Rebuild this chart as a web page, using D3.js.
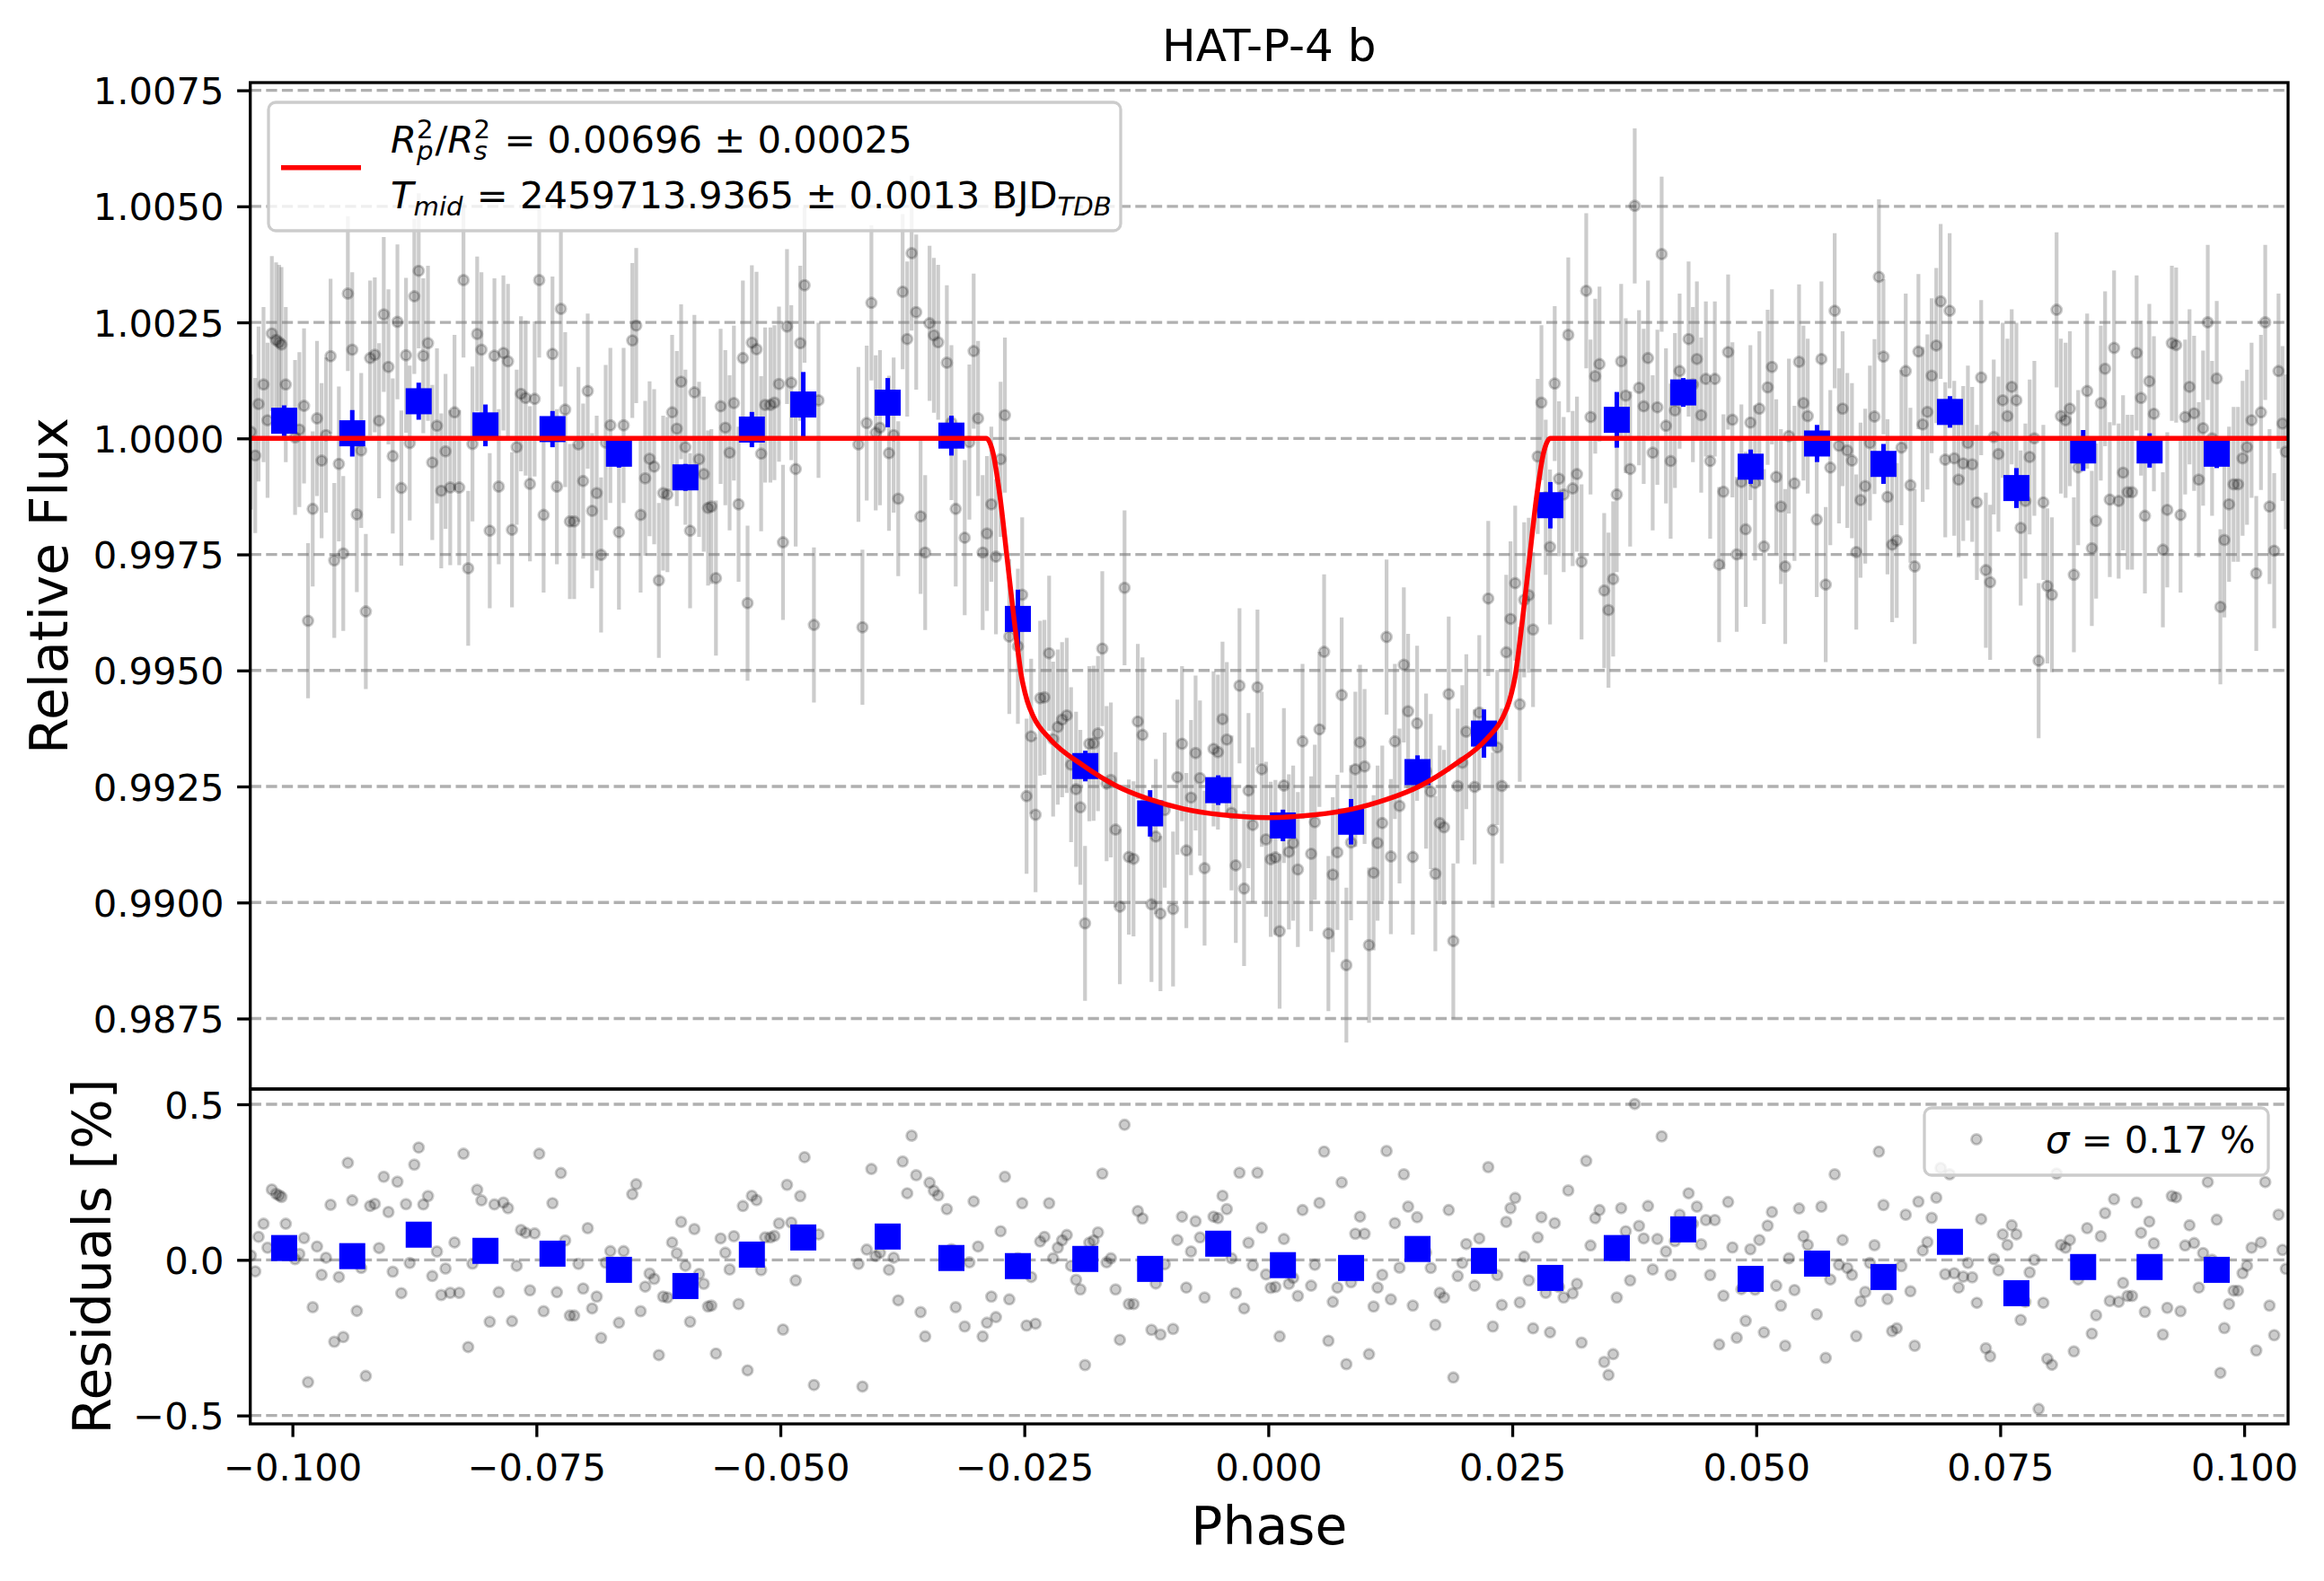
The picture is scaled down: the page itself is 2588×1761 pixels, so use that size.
<!DOCTYPE html>
<html lang="en">
<head>
<meta charset="UTF-8">
<script src="https://d3js.org/d3.v7.min.js"></script>
<title>HAT-P-4 b</title>
<style>
  body { margin: 0; background: white; }
  svg { display: block; background: white; }
  text { font-family: "DejaVu Sans", sans-serif; fill: black; }
</style>
</head>
<body>
<script>
// observed points: phase, relative flux, residual (%)
const phase = [
-0.10426,-0.10381,-0.10347,-0.10296,-0.10255,-0.10211,-0.10167,-0.10136,-0.10112,-0.10068,
-0.09973,-0.09929,-0.09881,-0.09840,-0.09792,-0.09748,-0.09701,-0.09656,-0.09609,-0.09571,
-0.09524,-0.09479,-0.09432,-0.09387,-0.09340,-0.09295,-0.09248,-0.09204,-0.09156,-0.09112,
-0.09064,-0.09016,-0.08972,-0.08924,-0.08884,-0.08836,-0.08798,-0.08751,-0.08706,-0.08659,
-0.08611,-0.08567,-0.08519,-0.08475,-0.08431,-0.08383,-0.08339,-0.08291,-0.08247,-0.08199,
-0.08155,-0.08107,-0.08063,-0.07978,-0.07930,-0.07886,-0.07838,-0.07791,-0.07750,-0.07702,
-0.07658,-0.07610,-0.07566,-0.07518,-0.07471,-0.07426,-0.07335,-0.07290,-0.07249,-0.07205,
-0.07157,-0.07113,-0.07069,-0.07021,-0.06974,-0.06929,-0.06882,-0.06837,-0.06790,-0.06742,
-0.06654,-0.06606,-0.06517,-0.06477,-0.06432,-0.06385,-0.06340,-0.06293,-0.06245,-0.06201,
-0.06157,-0.06109,-0.06061,-0.06017,-0.05973,-0.05925,-0.05881,-0.05833,-0.05785,-0.05741,
-0.05707,-0.05660,-0.05612,-0.05564,-0.05520,-0.05476,-0.05428,-0.05384,-0.05336,-0.05292,
-0.05244,-0.05197,-0.05156,-0.05102,-0.05061,-0.05014,-0.04973,-0.04932,-0.04888,-0.04843,
-0.04796,-0.04752,-0.04656,-0.04609,-0.04200,-0.04159,-0.04115,-0.04067,-0.04023,-0.03979,
-0.03887,-0.03839,-0.03792,-0.03747,-0.03700,-0.03655,-0.03608,-0.03563,-0.03516,-0.03471,
-0.03427,-0.03383,-0.03294,-0.03247,-0.03203,-0.03111,-0.03063,-0.03019,-0.02974,-0.02927,
-0.02883,-0.02838,-0.02791,-0.02743,-0.02699,-0.02654,-0.02566,-0.02522,-0.02477,-0.02430,
-0.02385,-0.02338,-0.02294,-0.02246,-0.02205,-0.02157,-0.02113,-0.02065,-0.02021,-0.01970,
-0.01926,-0.01878,-0.01834,-0.01790,-0.01745,-0.01701,-0.01657,-0.01613,-0.01565,-0.01521,
-0.01473,-0.01429,-0.01381,-0.01337,-0.01289,-0.01197,-0.01153,-0.01105,-0.01061,-0.00976,
-0.00932,-0.00884,-0.00840,-0.00792,-0.00745,-0.00700,-0.00653,-0.00561,-0.00516,-0.00469,
-0.00425,-0.00377,-0.00333,-0.00295,-0.00248,-0.00203,-0.00159,-0.00111,-0.00067,-0.00023,
0.00025,0.00073,0.00116,0.00160,0.00211,0.00255,0.00303,0.00351,0.00439,0.00477,
0.00524,0.00572,0.00616,0.00661,0.00708,0.00752,0.00800,0.00848,0.00892,0.00940,
0.00987,0.01032,0.01079,0.01120,0.01168,0.01212,0.01256,0.01297,0.01345,0.01389,
0.01433,0.01481,0.01525,0.01617,0.01665,0.01712,0.01757,0.01801,0.01849,0.01896,
0.01941,0.01988,0.02029,0.02114,0.02162,0.02254,0.02301,0.02346,0.02393,0.02438,
0.02482,0.02530,0.02577,0.02622,0.02669,0.02713,0.02761,0.02799,0.02843,0.02887,
0.02935,0.02979,0.03027,0.03074,0.03119,0.03163,0.03210,0.03258,0.03302,0.03350,
0.03394,0.03442,0.03486,0.03534,0.03571,0.03616,0.03663,0.03708,0.03755,0.03799,
0.03847,0.03891,0.03939,0.03987,0.04031,0.04075,0.04123,0.04167,0.04215,0.04307,
0.04351,0.04392,0.04436,0.04484,0.04528,0.04576,0.04620,0.04664,0.04712,0.04756,
0.04800,0.04848,0.04892,0.04940,0.04988,0.05032,0.05079,0.05117,0.05161,0.05205,
0.05253,0.05297,0.05335,0.05392,0.05439,0.05484,0.05528,0.05620,0.05668,0.05712,
0.05759,0.05804,0.05848,0.05885,0.05933,0.05981,0.06025,0.06069,0.06117,0.06165,
0.06212,0.06257,0.06304,0.06345,0.06393,0.06440,0.06488,0.06532,0.06580,0.06624,
0.06662,0.06706,0.06754,0.06798,0.06845,0.06890,0.06937,0.06982,0.07029,0.07074,
0.07121,0.07169,0.07213,0.07261,0.07305,0.07353,0.07397,0.07434,0.07482,0.07526,
0.07574,0.07618,0.07666,0.07710,0.07758,0.07802,0.07850,0.07894,0.07942,0.07983,
0.08030,0.08078,0.08122,0.08170,0.08214,0.08255,0.08299,0.08391,0.08439,0.08483,
0.08531,0.08575,0.08623,0.08667,0.08714,0.08759,0.08806,0.08851,0.08898,0.08943,
0.08983,0.09028,0.09075,0.09167,0.09212,0.09259,0.09303,0.09348,0.09395,0.09440,
0.09487,0.09535,0.09579,0.09627,0.09671,0.09719,0.09756,0.09797,0.09845,0.09892,
0.09937,0.09984,0.10029,0.10076,0.10124,0.10172,0.10216,0.10260,0.10308,0.10352,0.10393,0.10427
];

const flux = [
1.00014,0.99963,1.00074,1.00116,1.00039,1.00226,1.00212,1.00207,1.00202,1.00116,
1.00002,1.00019,1.00070,0.99607,0.99848,1.00043,0.99952,1.00007,1.00177,0.99737,
0.99945,0.99752,1.00312,1.00191,0.99836,0.99974,0.99627,1.00173,1.00180,1.00038,
1.00267,1.00154,0.99962,1.00251,0.99893,1.00179,0.99990,1.00306,1.00361,1.00178,
1.00205,0.99948,1.00027,0.99887,0.99972,0.99894,1.00056,0.99894,1.00341,0.99720,
0.99988,1.00225,1.00191,0.99801,1.00178,0.99896,1.00184,1.00166,0.99803,0.99981,
1.00096,1.00087,0.99902,1.00085,1.00341,0.99835,1.00182,0.99896,1.00279,1.00062,
0.99821,0.99821,0.99987,0.99908,1.00102,0.99844,0.99882,0.99749,0.99991,1.00028,
0.99798,1.00028,1.00211,1.00243,0.99835,0.99914,0.99956,0.99939,0.99694,0.99882,
0.99879,1.00056,1.00021,1.00122,0.99981,0.99801,1.00099,0.99955,0.99923,0.99850,
0.99853,0.99699,1.00069,1.00023,0.99969,1.00076,0.99858,1.00173,0.99645,1.00206,
1.00192,0.99967,1.00072,1.00072,1.00077,1.00117,0.99776,1.00241,1.00120,0.99934,
1.00205,1.00330,0.99598,1.00082,0.99987,0.99593,1.00033,1.00292,1.00012,1.00023,
0.99968,1.00007,0.99870,1.00316,1.00214,1.00399,1.00272,0.99832,0.99754,1.00248,
1.00222,1.00207,1.00163,1.00034,0.99848,0.99786,0.99992,1.00188,1.00043,0.99754,
0.99795,0.99858,0.99745,0.99955,1.00050,0.99573,0.99552,0.99663,0.99229,0.99358,
0.99189,0.99440,0.99442,0.99537,0.99352,0.99378,0.99394,0.99403,0.99297,0.99244,
0.99205,0.98955,0.99342,0.99343,0.99364,0.99547,0.99256,0.99264,0.99157,0.98991,
0.99678,0.99098,0.99094,0.99390,0.99361,0.98996,0.99142,0.98976,0.99199,0.98986,
0.99270,0.99342,0.99112,0.99226,0.99322,0.99268,0.99074,0.99331,0.99324,0.99395,
0.99351,0.99193,0.99080,0.99467,0.99030,0.99241,0.99167,0.99464,0.99287,0.99136,
0.99093,0.99097,0.98938,0.99252,0.99109,0.99128,0.99071,0.99347,0.99105,0.99173,
0.99373,0.99540,0.98933,0.99060,0.99108,0.99447,0.98865,0.99129,0.99287,0.99345,
0.99293,0.98908,0.99064,0.99128,0.99171,0.99572,0.99099,0.99347,0.99208,0.99512,
0.99412,0.99098,0.99386,0.99283,0.99239,0.99062,0.99171,0.99162,0.99449,0.98917,
0.99251,0.99301,0.99368,0.99249,0.99409,0.99655,0.99156,0.99334,0.99251,0.99539,
0.99611,0.99688,0.99427,0.99652,0.99662,0.99588,0.99961,1.00077,0.99873,0.99766,
1.00118,0.99913,0.99879,1.00223,0.99892,0.99923,0.99734,1.00318,1.00046,1.00134,
1.00160,0.99672,0.99630,0.99697,0.99879,1.00166,1.00092,0.99934,1.00501,1.00109,
1.00069,1.00173,0.99969,1.00067,1.00397,1.00027,0.99951,1.00060,1.00145,1.00214,
1.00116,1.00171,1.00050,1.00128,0.99951,1.00128,0.99728,0.99885,1.00186,1.00040,
0.99750,0.99906,0.99804,1.00034,0.99904,1.00064,0.99767,1.00110,1.00154,0.99917,
0.99853,0.99724,1.00005,0.99903,1.00165,1.00076,1.00048,0.99825,1.00171,0.99685,
0.99937,1.00275,0.99984,1.00064,0.99974,0.99952,0.99755,0.99867,0.99897,0.99990,
1.00047,1.00348,1.00176,0.99874,0.99771,0.99780,0.99980,1.00145,0.99899,0.99724,
1.00187,1.00030,1.00057,1.00135,1.00200,1.00295,0.99954,1.00275,0.99957,0.99911,
0.99946,0.99990,0.99944,0.99862,1.00131,0.99716,0.99690,1.00003,0.99966,1.00082,
1.00048,1.00111,1.00082,0.99807,0.99865,0.99960,1.00000,0.99521,0.99862,0.99682,
0.99663,1.00277,1.00048,1.00039,1.00064,0.99706,0.99937,1.00102,0.99763,0.99822,
1.00076,1.00150,0.99868,1.00195,0.99865,0.99926,0.99884,0.99884,1.00184,1.00087,
0.99833,1.00123,1.00053,0.99760,0.99846,1.00205,1.00201,0.99835,1.00046,1.00111,
1.00054,0.99911,1.00022,1.00250,1.00000,1.00129,0.99637,0.99781,0.99858,0.99901,
0.99901,0.99957,0.99981,1.00039,0.99709,1.00056,1.00250,0.99853,0.99758,1.00145,1.00032,0.99971
];

const resid = [
0.014,-0.037,0.074,0.116,0.039,0.226,0.212,0.207,0.202,0.116,
0.002,0.019,0.070,-0.393,-0.152,0.043,-0.048,0.007,0.177,-0.263,
-0.055,-0.248,0.312,0.191,-0.164,-0.026,-0.373,0.173,0.180,0.038,
0.267,0.154,-0.038,0.251,-0.107,0.179,-0.010,0.306,0.361,0.178,
0.205,-0.052,0.027,-0.113,-0.028,-0.106,0.056,-0.106,0.341,-0.280,
-0.012,0.225,0.191,-0.199,0.178,-0.104,0.184,0.166,-0.197,-0.019,
0.096,0.087,-0.098,0.085,0.341,-0.165,0.182,-0.104,0.279,0.062,
-0.179,-0.179,-0.013,-0.092,0.102,-0.156,-0.118,-0.251,-0.009,0.028,
-0.202,0.028,0.211,0.243,-0.165,-0.086,-0.044,-0.061,-0.306,-0.118,
-0.121,0.056,0.021,0.122,-0.019,-0.199,0.099,-0.045,-0.077,-0.150,
-0.147,-0.301,0.069,0.023,-0.031,0.076,-0.142,0.173,-0.355,0.206,
0.192,-0.033,0.072,0.072,0.077,0.117,-0.224,0.241,0.120,-0.066,
0.205,0.330,-0.402,0.082,-0.013,-0.407,0.033,0.292,0.012,0.023,
-0.032,0.007,-0.130,0.316,0.214,0.399,0.272,-0.168,-0.246,0.248,
0.222,0.207,0.163,0.034,-0.152,-0.214,-0.008,0.188,0.043,-0.246,
-0.202,-0.118,-0.184,0.092,0.267,-0.127,0.005,0.182,-0.211,-0.055,
-0.205,0.059,0.074,0.182,0.005,0.039,0.063,0.080,-0.019,-0.064,
-0.095,-0.338,0.055,0.062,0.088,0.277,-0.008,0.005,-0.095,-0.257,
0.434,-0.142,-0.142,0.157,0.133,-0.225,-0.076,-0.240,-0.014,-0.222,
0.064,0.139,-0.089,0.027,0.124,0.072,-0.121,0.139,0.134,0.206,
0.163,0.005,-0.107,0.280,-0.156,0.055,-0.018,0.280,0.103,-0.047,
-0.090,-0.087,-0.246,0.067,-0.077,-0.058,-0.116,0.160,-0.083,-0.016,
0.183,0.348,-0.260,-0.135,-0.089,0.249,-0.335,-0.072,0.084,0.139,
0.084,-0.303,-0.150,-0.089,-0.048,0.350,-0.127,0.118,-0.025,0.275,
0.171,-0.147,0.137,0.024,-0.026,-0.209,-0.106,-0.121,0.160,-0.378,
-0.052,-0.010,0.051,-0.083,0.069,0.298,-0.214,-0.049,-0.145,0.122,
0.166,0.199,-0.137,0.010,-0.066,-0.220,0.072,0.137,-0.106,-0.233,
0.118,-0.087,-0.121,0.223,-0.108,-0.077,-0.266,0.318,0.046,0.134,
0.160,-0.328,-0.370,-0.303,-0.121,0.166,0.092,-0.066,0.501,0.109,
0.069,0.173,-0.031,0.067,0.397,0.027,-0.049,0.060,0.145,0.214,
0.116,0.171,0.050,0.128,-0.049,0.128,-0.272,-0.115,0.186,0.040,
-0.250,-0.094,-0.196,0.034,-0.096,0.064,-0.233,0.110,0.154,-0.083,
-0.147,-0.276,0.005,-0.097,0.165,0.076,0.048,-0.175,0.171,-0.315,
-0.063,0.275,-0.016,0.064,-0.026,-0.048,-0.245,-0.133,-0.103,-0.010,
0.047,0.348,0.176,-0.126,-0.229,-0.220,-0.020,0.145,-0.101,-0.276,
0.187,0.030,0.057,0.135,0.200,0.295,-0.046,0.275,-0.043,-0.089,
-0.054,-0.010,-0.056,-0.138,0.131,-0.284,-0.310,0.003,-0.034,0.082,
0.048,0.111,0.082,-0.193,-0.135,-0.040,0.000,-0.479,-0.138,-0.318,
-0.337,0.277,0.048,0.039,0.064,-0.294,-0.063,0.102,-0.237,-0.178,
0.076,0.150,-0.132,0.195,-0.135,-0.074,-0.116,-0.116,0.184,0.087,
-0.167,0.123,0.053,-0.240,-0.154,0.205,0.201,-0.165,0.046,0.111,
0.054,-0.089,0.022,0.250,0.000,0.129,-0.363,-0.219,-0.142,-0.099,
-0.099,-0.043,-0.019,0.039,-0.291,0.056,0.250,-0.147,-0.242,0.145,0.032,-0.029
];

const pointErr = 0.00167;

// binned points
const binPhase = [-0.10085,-0.09387,-0.08706,-0.08022,-0.07335,-0.06654,-0.05973,-0.05292,-0.04765,-0.03900,
  -0.03247,-0.02566,-0.01875,-0.01211,-0.00513,0.00150,0.00848,0.01529,0.02210,0.02890,
  0.03571,0.04252,0.04943,0.05623,0.06304,0.06985,0.07666,0.08350,0.09031,0.09719];
const binFlux = [1.00038,1.00011,1.00080,1.00028,1.00020,0.99967,0.99916,1.00019,1.00073,1.00077,
  1.00006,0.99611,0.99294,0.99192,0.99242,0.99166,0.99174,0.99281,0.99364,0.99856,
  1.00040,1.00099,0.99939,0.99989,0.99945,1.00057,0.99893,0.99974,0.99974,0.99967];
const binErr = [0.00033,0.00050,0.00040,0.00045,0.00039,0.00030,0.00029,0.00038,0.00070,0.00053,
  0.00043,0.00063,0.00033,0.00050,0.00032,0.00034,0.00049,0.00036,0.00052,0.00050,
  0.00060,0.00031,0.00037,0.00040,0.00043,0.00034,0.00043,0.00044,0.00037,0.00031];
const binResid = [0.038,0.012,0.081,0.029,0.020,-0.032,-0.084,0.017,0.072,0.075,
  0.006,-0.020,0.003,-0.029,0.052,-0.017,-0.026,0.035,-0.003,-0.058,
  0.038,0.098,-0.061,-0.012,-0.055,0.058,-0.107,-0.023,-0.023,-0.032];

// fitted transit model (red curve)
const modelPhase = [-0.1043,-0.0289,-0.0282,-0.02748,-0.02674,-0.02601,-0.02529,-0.0247,-0.02406,-0.02236,
  -0.01895,-0.01554,-0.01213,-0.00872,-0.00482,0,0.00482,0.00872,0.01213,0.01554,
  0.01895,0.02236,0.02406,0.0247,0.02529,0.02601,0.02674,0.02748,0.0282,0.0289,0.1045];
const modelFlux = [1,1,0.99968,0.99872,0.99737,0.99603,0.99487,0.99434,0.99400,0.99352,
  0.99295,0.99251,0.99222,0.99202,0.99189,0.99183,0.99189,0.99202,0.99222,0.99251,
  0.99295,0.99352,0.99400,0.99434,0.99487,0.99603,0.99737,0.99872,0.99968,1,1];

const fluxTicks = [0.9875,0.9900,0.9925,0.9950,0.9975,1.0000,1.0025,1.0050,1.0075];
const residTicks = [-0.5,0.0,0.5];
const phaseTicks = [-0.100,-0.075,-0.050,-0.025,0.000,0.025,0.050,0.075,0.100];

const titleText = "HAT-P-4 b";
const depthText = " = 0.00696 \u00b1 0.00025";
const tmidText = " = 2459713.9365 \u00b1 0.0013 BJD";
const sigmaText = " = 0.17 %";

const width = 2588, height = 1761;
const margin = {left: 278.7, right: 2548, top: 92, split: 1213, bottom: 1586};
const fs = 41.7, labelFs = 58.3, titleFs = 50;
const tickLen = 14.6, lw = 3.3;

const svg = d3.select('body').append('svg')
  .attr('width', width).attr('height', height);

const x = d3.scaleLinear().domain([-0.10432, 0.10450]).range([margin.left, margin.right]);
const yTop = d3.scaleLinear().domain([0.985981, 1.007666]).range([margin.split, margin.top]);
const yBot = d3.scaleLinear().domain([-0.527, 0.549]).range([margin.bottom, margin.split]);

const defs = svg.append('defs');
defs.append('clipPath').attr('id', 'clipTop').append('rect')
  .attr('x', margin.left).attr('y', margin.top)
  .attr('width', margin.right - margin.left).attr('height', margin.split - margin.top);
defs.append('clipPath').attr('id', 'clipBot').append('rect')
  .attr('x', margin.left).attr('y', margin.split)
  .attr('width', margin.right - margin.left).attr('height', margin.bottom - margin.split);

const idx = d3.range(Math.min(phase.length, flux.length, resid.length));

// grid lines
function grid(g, ticks, y) {
  g.selectAll('line.grid').data(ticks).enter().append('line')
    .attr('class', 'grid')
    .attr('x1', margin.left).attr('x2', margin.right)
    .attr('y1', d => y(d)).attr('y2', d => y(d))
    .attr('stroke', '#b0b0b0').attr('stroke-width', lw)
    .attr('stroke-dasharray', '12.3,5.3');
}

// ---------- top panel ----------
const gTop = svg.append('g').attr('clip-path', 'url(#clipTop)');
grid(gTop, fluxTicks, yTop);

gTop.append('g').selectAll('line').data(idx).enter().append('line')
  .attr('x1', i => x(phase[i])).attr('x2', i => x(phase[i]))
  .attr('y1', i => yTop(flux[i] - pointErr)).attr('y2', i => yTop(flux[i] + pointErr))
  .attr('stroke', '#808080').attr('stroke-opacity', 0.4).attr('stroke-width', 4.2);

gTop.append('g').selectAll('circle').data(idx).enter().append('circle')
  .attr('cx', i => x(phase[i])).attr('cy', i => yTop(flux[i]))
  .attr('r', 5.6)
  .attr('fill', 'black').attr('fill-opacity', 0.2)
  .attr('stroke', 'black').attr('stroke-opacity', 0.2).attr('stroke-width', 2.8);

const bins = d3.range(binPhase.length);
gTop.append('g').selectAll('line').data(bins).enter().append('line')
  .attr('x1', i => x(binPhase[i])).attr('x2', i => x(binPhase[i]))
  .attr('y1', i => yTop(binFlux[i] - binErr[i])).attr('y2', i => yTop(binFlux[i] + binErr[i]))
  .attr('stroke', 'blue').attr('stroke-width', 5);
gTop.append('g').selectAll('rect').data(bins).enter().append('rect')
  .attr('x', i => x(binPhase[i]) - 14.5).attr('y', i => yTop(binFlux[i]) - 14.5)
  .attr('width', 29).attr('height', 29).attr('fill', 'blue');

const modelLine = d3.line()
  .x(i => x(modelPhase[i])).y(i => yTop(modelFlux[i]))
  .curve(d3.curveMonotoneX);
gTop.append('path').datum(d3.range(modelPhase.length))
  .attr('d', modelLine).attr('fill', 'none')
  .attr('stroke', 'red').attr('stroke-width', 5.5);

// ---------- bottom panel ----------
const gBot = svg.append('g').attr('clip-path', 'url(#clipBot)');
grid(gBot, residTicks, yBot);

gBot.append('g').selectAll('circle').data(idx).enter().append('circle')
  .attr('cx', i => x(phase[i])).attr('cy', i => yBot(resid[i]))
  .attr('r', 5.6)
  .attr('fill', 'black').attr('fill-opacity', 0.2)
  .attr('stroke', 'black').attr('stroke-opacity', 0.2).attr('stroke-width', 2.8);

gBot.append('g').selectAll('rect').data(bins).enter().append('rect')
  .attr('x', i => x(binPhase[i]) - 14.5).attr('y', i => yBot(binResid[i]) - 14.5)
  .attr('width', 29).attr('height', 29).attr('fill', 'blue');

// ---------- axes ----------
function styleAxis(g, dy) {
  g.select('.domain').remove();
  g.selectAll('.tick line').attr('stroke', 'black').attr('stroke-width', lw);
  g.selectAll('.tick text').style('font-size', fs + 'px')
    .style('font-family', '"DejaVu Sans", sans-serif').attr('dy', dy);
}

svg.append('g').attr('transform', `translate(${margin.left},0)`)
  .call(d3.axisLeft(yTop).tickValues(fluxTicks).tickFormat(d3.format('.4f'))
    .tickSize(tickLen).tickPadding(tickLen))
  .call(g => styleAxis(g, '0.36em'));

svg.append('g').attr('transform', `translate(${margin.left},0)`)
  .call(d3.axisLeft(yBot).tickValues(residTicks).tickFormat(d3.format('.1f'))
    .tickSize(tickLen).tickPadding(tickLen))
  .call(g => styleAxis(g, '0.36em'));

svg.append('g').attr('transform', `translate(0,${margin.bottom})`)
  .call(d3.axisBottom(x).tickValues(phaseTicks).tickFormat(d3.format('.3f'))
    .tickSize(tickLen).tickPadding(tickLen))
  .call(g => styleAxis(g, '0.81em'));

// frames
[[margin.top, margin.split], [margin.split, margin.bottom]].forEach(([t, b]) => {
  svg.append('rect')
    .attr('x', margin.left).attr('y', t)
    .attr('width', margin.right - margin.left).attr('height', b - t)
    .attr('fill', 'none').attr('stroke', 'black').attr('stroke-width', lw);
});

// labels
svg.append('text').attr('x', (margin.left + margin.right) / 2).attr('y', 68)
  .attr('text-anchor', 'middle').style('font-size', titleFs + 'px').text(titleText);
svg.append('text').attr('x', (margin.left + margin.right) / 2).attr('y', 1720)
  .attr('text-anchor', 'middle').style('font-size', labelFs + 'px').text('Phase');
svg.append('text').attr('transform', `translate(75,${(margin.top + margin.split) / 2}) rotate(-90)`)
  .attr('text-anchor', 'middle').style('font-size', labelFs + 'px').text('Relative Flux');
svg.append('text').attr('transform', `translate(123,${(margin.split + margin.bottom) / 2}) rotate(-90)`)
  .attr('text-anchor', 'middle').style('font-size', labelFs + 'px').text('Residuals [%]');

// one text element per line; super/subscripts stacked with tspans
function mathLine(g, x0, y0, parts) {
  const t = g.append('text').attr('x', x0).attr('y', y0)
    .style('font-size', fs + 'px').style('white-space', 'pre');
  let cx = x0, cur = 0;
  const span = (str, size, shift, italic, xpos) => {
    const s = t.append('tspan').attr('x', xpos).attr('dy', shift - cur)
      .style('font-size', size + 'px').style('font-style', italic ? 'italic' : 'normal')
      .text(str);
    cur = shift;
    return s.node().getComputedTextLength();
  };
  parts.forEach(p => {
    if (p.sup !== undefined || p.sub !== undefined) {
      let w = 0;
      if (p.sup !== undefined) w = Math.max(w, span(p.sup, 0.7 * fs, -0.38 * fs, false, cx));
      if (p.sub !== undefined) w = Math.max(w, span(p.sub, 0.7 * fs, 0.2 * fs, true, cx));
      cx += w + 2;
    } else {
      cx += span(p.t, fs, 0, !!p.it, cx);
    }
  });
}

// legend (top)
const leg1 = svg.append('g');
leg1.append('rect').attr('x', 299).attr('y', 114).attr('width', 949).attr('height', 143)
  .attr('rx', 8).attr('fill', 'white').attr('fill-opacity', 0.8)
  .attr('stroke', '#cccccc').attr('stroke-width', lw);
leg1.append('line').attr('x1', 313).attr('x2', 402).attr('y1', 186.7).attr('y2', 186.7)
  .attr('stroke', 'red').attr('stroke-width', 5.5);
mathLine(leg1, 435, 170, [
  {t: 'R', it: true}, {sup: '2', sub: 'p'}, {t: '/'}, {t: 'R', it: true}, {sup: '2', sub: 's'},
  {t: depthText}
]);
mathLine(leg1, 435, 232, [
  {t: 'T', it: true}, {sub: 'mid'}, {t: tmidText}, {sub: 'TDB'}
]);

// legend (bottom)
const leg2 = svg.append('g');
leg2.append('rect').attr('x', 2143).attr('y', 1234).attr('width', 383).attr('height', 75)
  .attr('rx', 8).attr('fill', 'white').attr('fill-opacity', 0.8)
  .attr('stroke', '#cccccc').attr('stroke-width', lw);
leg2.append('circle').attr('cx', 2201).attr('cy', 1269).attr('r', 5.6)
  .attr('fill', 'black').attr('fill-opacity', 0.2)
  .attr('stroke', 'black').attr('stroke-opacity', 0.2).attr('stroke-width', 2.8);
mathLine(leg2, 2278, 1284, [{t: '\u03c3', it: true}, {t: sigmaText}]);
</script>
</body>
</html>
